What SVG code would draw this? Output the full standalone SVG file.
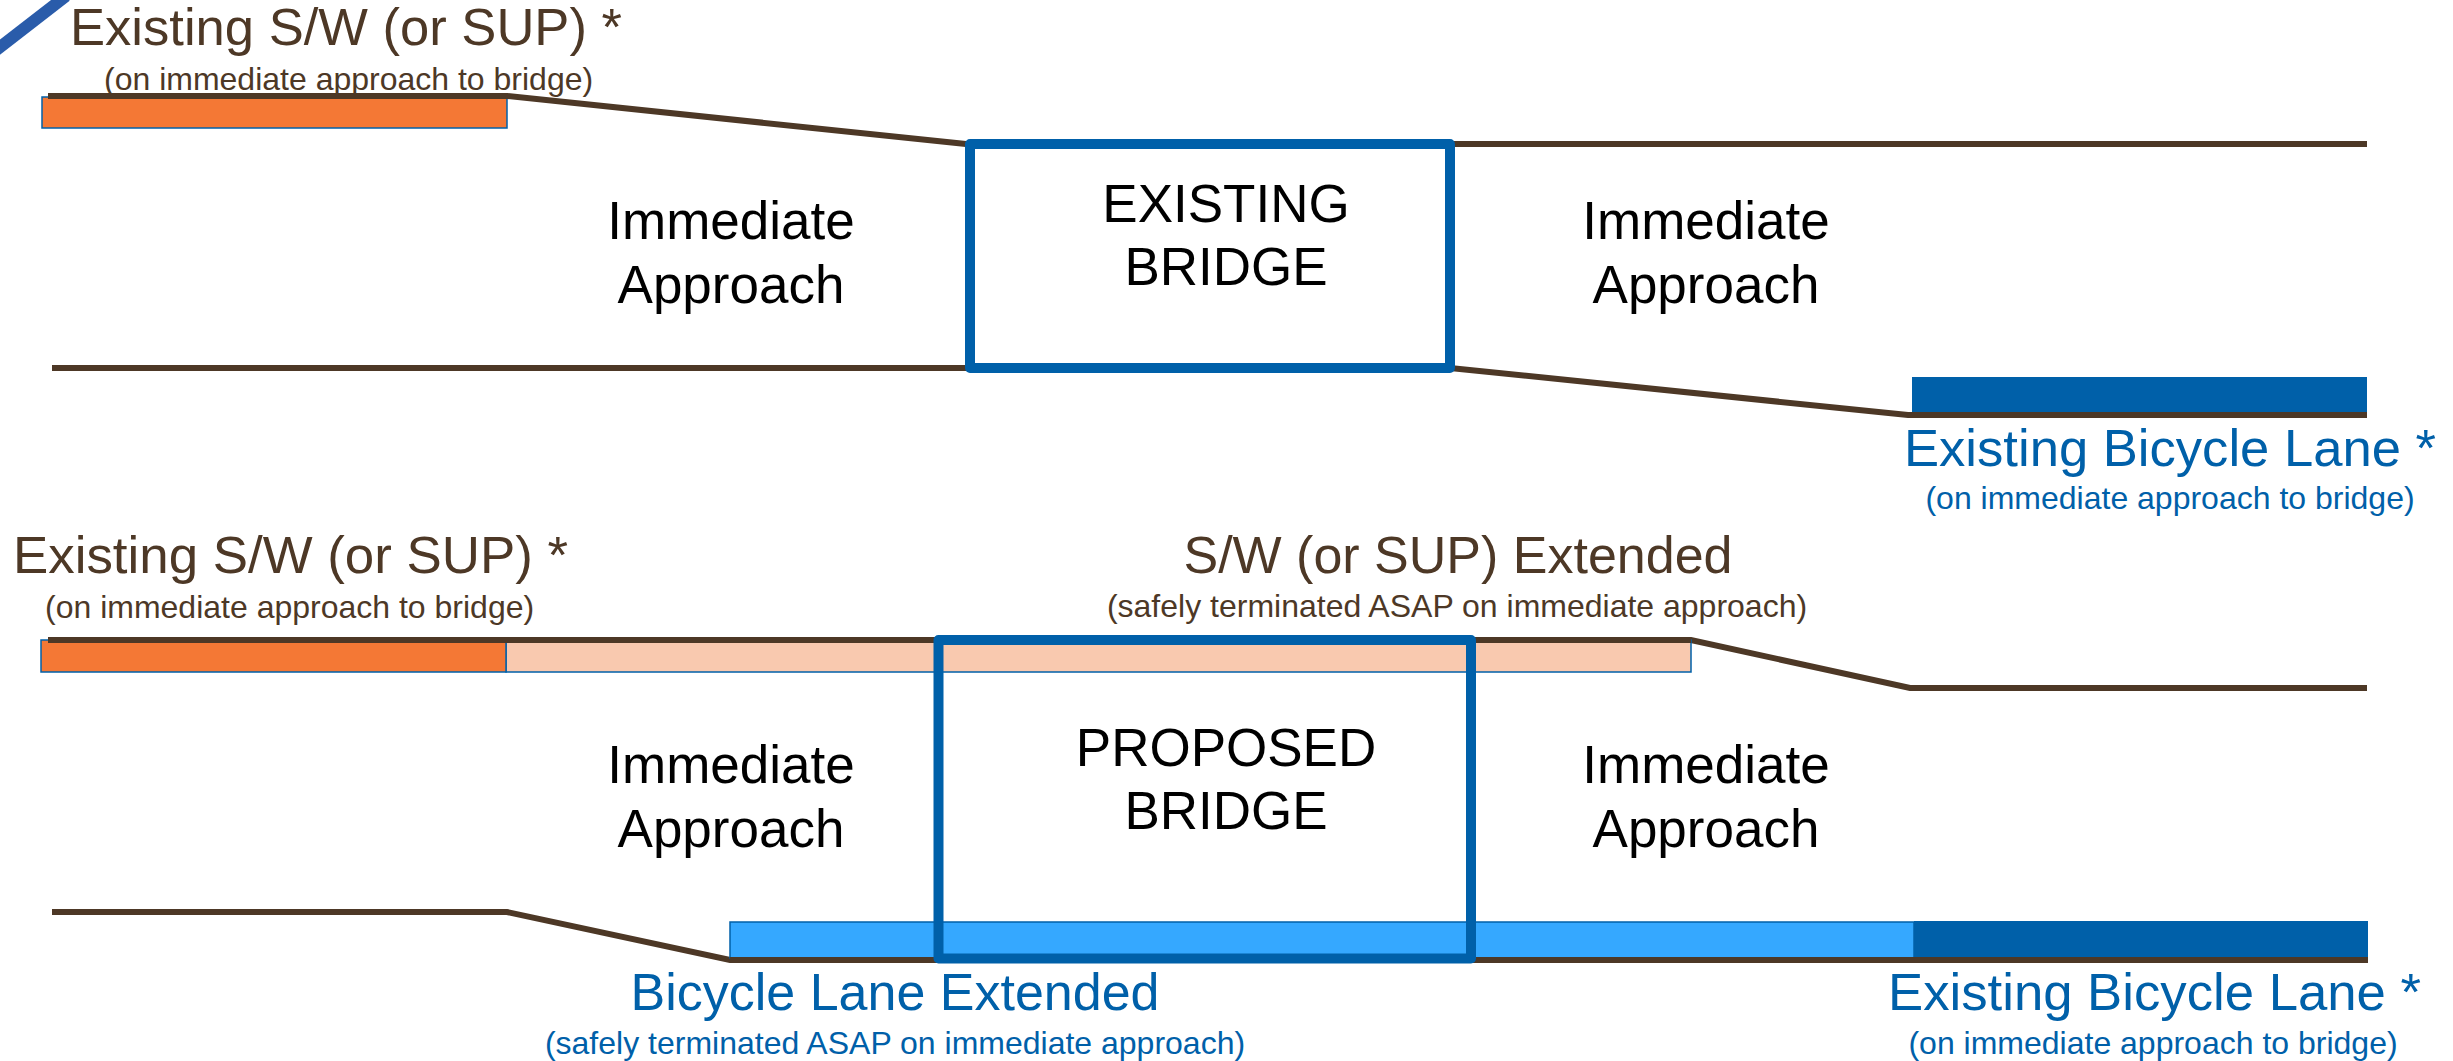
<svg xmlns="http://www.w3.org/2000/svg" width="2453" height="1061" viewBox="0 0 2453 1061">
<style>
  text { font-family: "Liberation Sans", Arial, sans-serif; }
  .brown { fill: #4D3826; }
  .blue { fill: #0060A9; }
  .black { fill: #000000; }
  .t52 { font-size: 52px; }
  .t53 { font-size: 53px; }
  .t32 { font-size: 32px; }
  .mid { text-anchor: middle; }
  .road { fill: none; stroke: #4D3826; stroke-width: 6; stroke-linejoin: miter; }
  .bridge { fill: none; stroke: #0060A9; stroke-width: 10; stroke-linejoin: round; }
  .lane { stroke: #0060A9; stroke-width: 1.5; }
</style>
<rect x="0" y="0" width="2453" height="1061" fill="#FFFFFF"/>

<!-- decorative corner line -->
<line x1="-5" y1="51" x2="66" y2="-4" stroke="#2A5CAA" stroke-width="12"/>

<!-- ===== TOP: EXISTING ===== -->
<g id="top-sidewalk">
  <rect x="42" y="97" width="465" height="31" fill="#F47835" class="lane"/>
</g>
<g id="top-bikelane">
  <rect x="1912" y="377" width="455" height="36" fill="#0060A9"/>
</g>

<g id="connectors">
  <!-- top section road edges -->
  <polyline class="road" points="48,96 507,96 966,144"/>
  <line class="road" x1="52" y1="368" x2="970" y2="368"/>
  <line class="road" x1="1450" y1="144" x2="2367" y2="144"/>
  <polyline class="road" points="1450,368 1908,415 2367,415"/>
  <!-- bottom section road edges -->
  <line class="road" x1="48" y1="640" x2="938" y2="640"/>
  <polyline class="road" points="1471,640 1691,640 1910,688 2367,688"/>
  <polyline class="road" points="52,912 507,912 730,960 938,960"/>
  <line class="road" x1="1471" y1="960" x2="2368" y2="960"/>
</g>

<g id="existing-bridge">
  <rect class="bridge" x="970" y="144" width="480" height="224"/>
  <text class="black t53 mid" x="1226" y="222">EXISTING</text>
  <text class="black t53 mid" x="1226" y="285">BRIDGE</text>
</g>

<g id="top-left-approach">
  <text class="black t53 mid" x="731" y="239">Immediate</text>
  <text class="black t53 mid" x="731" y="303">Approach</text>
</g>
<g id="top-right-approach">
  <text class="black t53 mid" x="1706" y="239">Immediate</text>
  <text class="black t53 mid" x="1706" y="303">Approach</text>
</g>

<g id="top-sidewalk-label">
  <text class="brown t52" x="70" y="45" textLength="552" lengthAdjust="spacingAndGlyphs">Existing S/W (or SUP) *</text>
  <text class="brown t32" x="104" y="90">(on immediate approach to bridge)</text>
</g>
<g id="top-bikelane-label">
  <text class="blue t52" x="1904" y="466" textLength="532" lengthAdjust="spacingAndGlyphs">Existing Bicycle Lane *</text>
  <text class="blue t32 mid" x="2170" y="509">(on immediate approach to bridge)</text>
</g>

<!-- ===== BOTTOM: PROPOSED ===== -->
<g id="bottom-sidewalk">
  <rect x="506" y="640" width="1185" height="32" fill="#F9C9AF" class="lane"/>
  <rect x="41" y="640" width="465" height="32" fill="#F47835" class="lane"/>
</g>
<g id="bottom-bikelane">
  <rect x="730" y="922" width="1184" height="36" fill="#35A8FF" class="lane"/>
  <rect x="1914" y="921" width="454" height="37" fill="#0060A9"/>
</g>

<g id="connectors-bottom-overlay">
  <line class="road" x1="48" y1="640" x2="938" y2="640"/>
  <line class="road" x1="1471" y1="640" x2="1691" y2="640"/>
  <line class="road" x1="730" y1="960" x2="938" y2="960"/>
  <line class="road" x1="1471" y1="960" x2="2368" y2="960"/>
</g>

<g id="proposed-bridge">
  <rect class="bridge" x="938.5" y="640" width="532.5" height="318.5"/>
  <text class="black t53 mid" x="1226" y="766">PROPOSED</text>
  <text class="black t53 mid" x="1226" y="829">BRIDGE</text>
</g>

<g id="bottom-left-approach">
  <text class="black t53 mid" x="731" y="783">Immediate</text>
  <text class="black t53 mid" x="731" y="847">Approach</text>
</g>
<g id="bottom-right-approach">
  <text class="black t53 mid" x="1706" y="783">Immediate</text>
  <text class="black t53 mid" x="1706" y="847">Approach</text>
</g>

<g id="bottom-sidewalk-label">
  <text class="brown t52" x="13" y="573" textLength="555" lengthAdjust="spacingAndGlyphs">Existing S/W (or SUP) *</text>
  <text class="brown t32" x="45" y="618">(on immediate approach to bridge)</text>
</g>
<g id="sidewalk-extended-label">
  <text class="brown t52 mid" x="1458" y="573">S/W (or SUP) Extended</text>
  <text class="brown t32 mid" x="1457" y="617">(safely terminated ASAP on immediate approach)</text>
</g>
<g id="bikelane-extended-label">
  <text class="blue t52 mid" x="895" y="1010">Bicycle Lane Extended</text>
  <text class="blue t32 mid" x="895" y="1054">(safely terminated ASAP on immediate approach)</text>
</g>
<g id="bottom-bikelane-label">
  <text class="blue t52" x="1888" y="1010" textLength="533" lengthAdjust="spacingAndGlyphs">Existing Bicycle Lane *</text>
  <text class="blue t32 mid" x="2153" y="1054">(on immediate approach to bridge)</text>
</g>
</svg>
